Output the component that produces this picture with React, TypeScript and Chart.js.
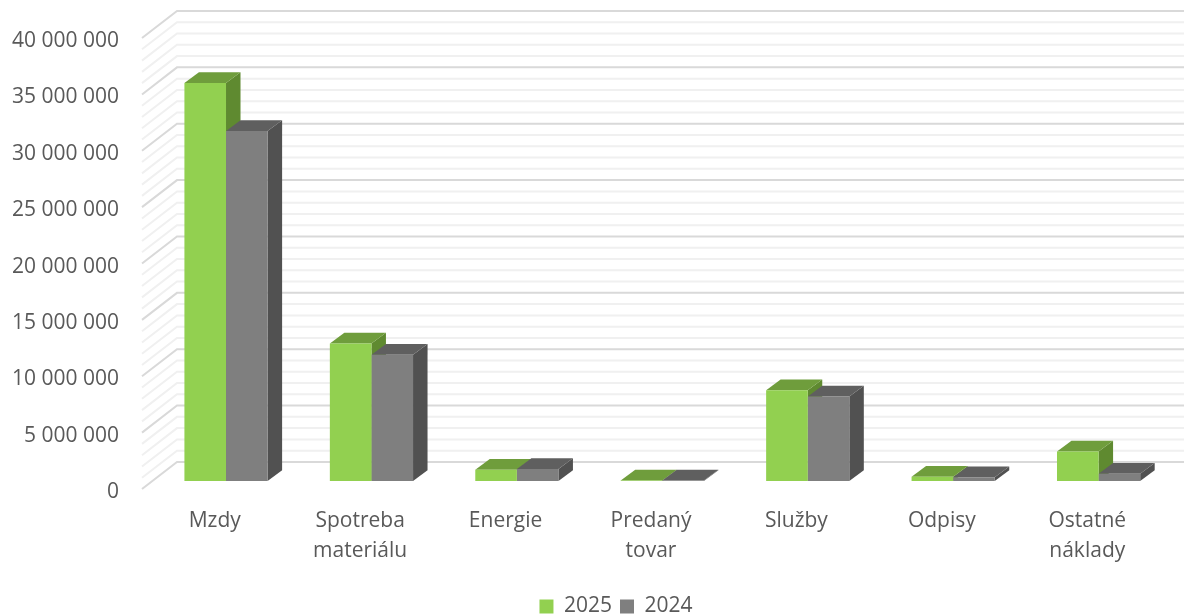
import React, { useEffect, useRef } from "react";
import { Chart, registerables } from "chart.js";

Chart.register(...registerables);

const categories = [["Mzdy"], ["Spotreba", "materiálu"], ["Energie"], ["Predaný", "tovar"], ["Služby"], ["Odpisy"], ["Ostatné", "náklady"]];
const values2025 = [35300000, 12200000, 1000000, 40000, 8050000, 380000, 2620000];
const values2024 = [31050000, 11200000, 1060000, 40000, 7500000, 340000, 650000];
const majorTicks = [0, 5000000, 10000000, 15000000, 20000000, 25000000, 30000000, 35000000, 40000000];
const minorStep = 1000000;

const FONT = "'Open Sans', sans-serif";
const TEXT = "#595959";
const GREEN = { front: "#92d050", top: "#6f9d3c", side: "#5f8a30" };
const GRAY = { front: "#7f7f7f", top: "#5f5f5f", side: "#515151" };

// geometry of the pseudo-3D box, px
const PX_PER_UNIT = 450 / 40000000;
const WALL_DX = 35;
const WALL_DY = 27;
const BAR_PLANE_DX = 11.3;
const BAR_PLANE_DY = 8;
const BAR_DX = 14.5;
const BAR_DY = 10.7;
const PLOT_H = 477;
const LABEL_DROP = 3;

const box3d = {
  id: "box3d",
  afterLayout(chart: any) {
    // let the value labels use the whole left margin, and set the legend at the foot of the page
    chart.scales.y.left = 0;
    chart.legend.top += 11;
    chart.legend.bottom += 11;
  },
  beforeDatasetsDraw(chart: any) {
    const { ctx, chartArea, scales } = chart;
    const left = chartArea.left;
    // walls
    ctx.save();
    ctx.lineJoin = "miter";
    const all: number[] = [];
    for (let v = 0; v <= 40000000; v += minorStep) all.push(v);
    const line = (v: number) => {
      const yF = scales.yFront.getPixelForValue(v);
      const yB = scales.yBack.getPixelForValue(v);
      ctx.beginPath();
      ctx.moveTo(left, yF);
      ctx.lineTo(left + WALL_DX, yB);
      ctx.lineTo(chart.width, yB);
      ctx.stroke();
    };
    ctx.strokeStyle = "#f0f0f0";
    ctx.lineWidth = 2;
    all.filter((v) => !majorTicks.includes(v)).forEach(line);
    ctx.strokeStyle = "#d9d9d9";
    ctx.lineWidth = 2;
    majorTicks.forEach(line);
    ctx.restore();
    // extrusions, left to right
    chart.data.datasets.forEach((ds: any, i: number) => {
      const meta = chart.getDatasetMeta(i);
      const c = ds.faces;
      meta.data.forEach((bar: any) => {
        const half = bar.width / 2;
        const l = bar.x - half + BAR_PLANE_DX;
        const r = bar.x + half + BAR_PLANE_DX;
        const t = bar.y;
        const b = bar.base;
        ctx.fillStyle = c.side;
        ctx.beginPath();
        ctx.moveTo(r, t);
        ctx.lineTo(r + BAR_DX, t - BAR_DY);
        ctx.lineTo(r + BAR_DX, b - BAR_DY);
        ctx.lineTo(r, b);
        ctx.closePath();
        ctx.fill();
        ctx.fillStyle = c.top;
        ctx.beginPath();
        ctx.moveTo(l, t);
        ctx.lineTo(l + BAR_DX, t - BAR_DY);
        ctx.lineTo(r + BAR_DX, t - BAR_DY);
        ctx.lineTo(r, t);
        ctx.closePath();
        ctx.fill();
      });
    });
  },
  beforeDatasetDraw(chart: any) {
    chart.ctx.save();
    chart.ctx.translate(BAR_PLANE_DX, 0);
  },
  afterDatasetDraw(chart: any) {
    chart.ctx.restore();
  },
};

const fmt = (v: number) => String(v).replace(/\B(?=(\d{3})+$)/g, " ");
const unitsOf = (px: number) => px / PX_PER_UNIT;

export default function App() {
  const ref = useRef<HTMLCanvasElement>(null);
  useEffect(() => {
    const chart = new Chart(ref.current as HTMLCanvasElement, {
      type: "bar",
      data: {
        labels: categories,
        datasets: [
          { label: "2025", data: values2025, backgroundColor: GREEN.front, yAxisID: "yBars", faces: GREEN, clip: false } as any,
          { label: "2024", data: values2024, backgroundColor: GRAY.front, yAxisID: "yBars", faces: GRAY, clip: false } as any,
        ],
      },
      options: {
        responsive: false,
        animation: false,
        layout: { padding: { left: 72, right: 24, top: 11, bottom: 0 } },
        datasets: { bar: { categoryPercentage: 0.572, barPercentage: 1 } },
        plugins: {
          tooltip: { enabled: false },
          legend: {
            position: "bottom",
            labels: { boxWidth: 14, boxHeight: 14, padding: 8, color: TEXT, font: { family: FONT, size: 21 } },
          },
        },
        scales: {
          x: {
            grid: { display: false },
            border: { display: false },
            afterFit: (s: any) => { s.height = 88; s.paddingLeft = 0; s.paddingRight = 0; },
            ticks: { autoSkip: false, maxRotation: 0, minRotation: 0, padding: 9, color: TEXT, font: { family: FONT, size: 21, lineHeight: 1.43 } },
          },
          y: {
            min: unitsOf(LABEL_DROP),
            max: unitsOf(PLOT_H + LABEL_DROP),
            grid: { display: false },
            border: { display: false },
            afterFit: (s: any) => { s.width = 70; s.paddingTop = 0; s.paddingBottom = 0; },
            afterBuildTicks: (s: any) => { s.ticks = majorTicks.map((value) => ({ value })); },
            ticks: { autoSkip: false, padding: 15, color: TEXT, font: { family: FONT, size: 21 }, callback: (v: any) => fmt(v) },
          },
          yFront: { display: false, min: 0, max: unitsOf(PLOT_H) },
          yBars: { display: false, min: -unitsOf(BAR_PLANE_DY), max: unitsOf(PLOT_H - BAR_PLANE_DY) },
          yBack: { display: false, min: -unitsOf(WALL_DY), max: unitsOf(PLOT_H - WALL_DY) },
        },
      } as any,
      plugins: [box3d],
    });
    return () => chart.destroy();
  }, []);
  return (
    <div style={{ position: "fixed", left: 0, top: 0, width: 1184, height: 616, background: "#fff" }}>
      <canvas ref={ref} width={1184} height={616} style={{ display: "block" }} />
    </div>
  );
}
